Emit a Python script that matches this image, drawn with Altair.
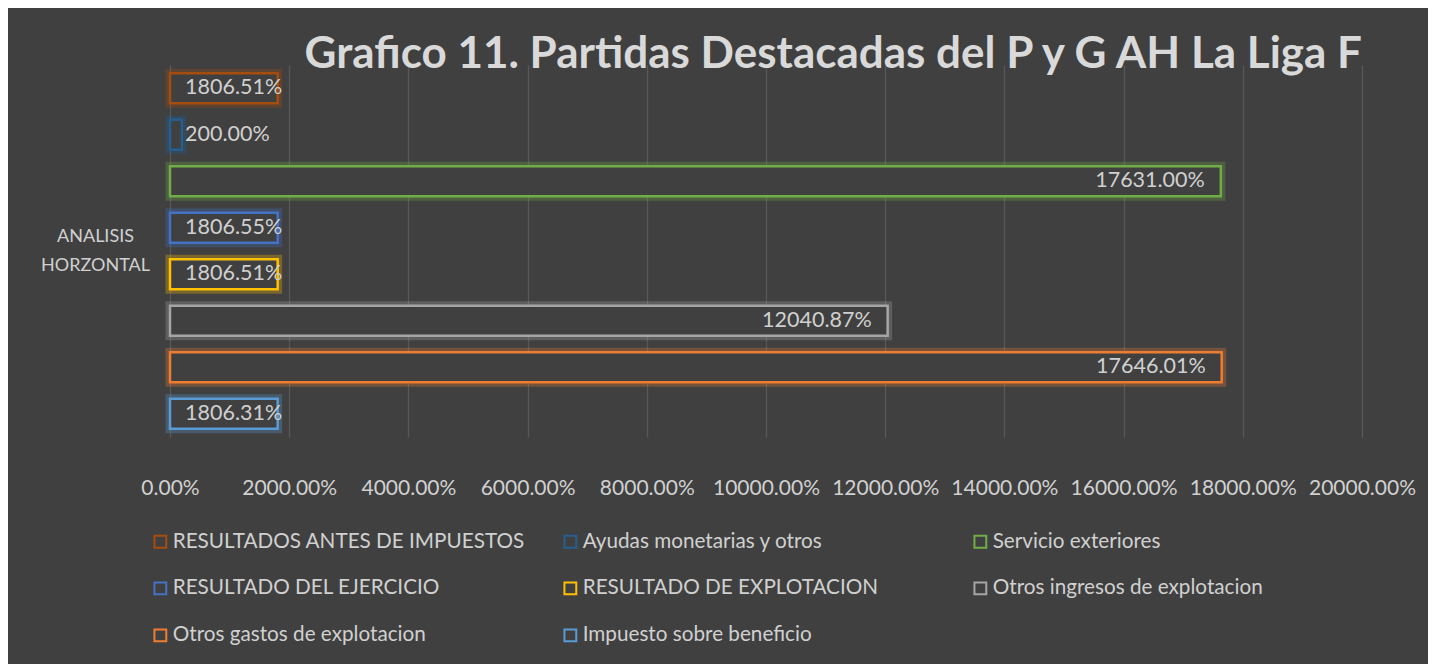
import altair as alt
import pandas as pd

series = [
    "RESULTADOS ANTES DE IMPUESTOS",
    "Ayudas monetarias y otros",
    "Servicio exteriores",
    "RESULTADO DEL EJERCICIO",
    "RESULTADO DE EXPLOTACION",
    "Otros ingresos de explotacion",
    "Otros gastos de explotacion",
    "Impuesto sobre beneficio",
]
values = [1806.51, 200.00, 17631.00, 1806.55, 1806.51, 12040.87, 17646.01, 1806.31]
colors = ["#A54C0F", "#255E91", "#70AD47", "#4472C4", "#FFC000", "#A5A5A5", "#ED7D31", "#5B9BD5"]
group = "ANALISIS HORZONTAL"
x_ticks = [0, 2000, 4000, 6000, 8000, 10000, 12000, 14000, 16000, 18000, 20000]
title = "Grafico 11. Partidas Destacadas del P y G AH La Liga F"

df = pd.DataFrame({"group": [group] * len(series), "series": series, "value": values})
df["label"] = [f"{v:.2f}%" for v in values]

FONT = "Lato"
TXT = "#D0D0D0"

color_scale = alt.Scale(domain=series, range=colors)
legend = alt.Legend(
    title=None,
    orient="none",
    legendX=-20,
    legendY=466,
    columns=3,
    direction="horizontal",
    symbolType="square",
    symbolSize=140,
    symbolStrokeWidth=2,
    symbolFillColor="transparent",
    labelFont=FONT,
    labelFontSize=20.7,
    labelColor=TXT,
    labelLimit=500,
    columnPadding=35,
    rowPadding=25,
    gridAlign="all",
    symbolOffset=0,
    labelOffset=2,
)
y_enc = alt.Y(
    "group:N",
    title=None,
    scale=alt.Scale(paddingInner=0, paddingOuter=0),
    axis=alt.Axis(
        labelExpr="split(datum.label, ' ')",
        labelAlign="center",
        labelPadding=75,
        labelOffset=-14,
        labelFont=FONT,
        labelFontSize=18,
        labelColor=TXT,
        labelLineHeight=29,
        ticks=False,
        domain=False,
        grid=False,
    ),
)
yoff_enc = alt.YOffset(
    "series:N",
    sort=series,
    scale=alt.Scale(paddingInner=0.356, paddingOuter=0.178),
)
x_enc = alt.X(
    "value:Q",
    title=None,
    scale=alt.Scale(domain=[0, 20000], nice=False),
    axis=alt.Axis(
        values=x_ticks,
        labelExpr="format(datum.value, '.2f') + '%'",
        labelFont=FONT,
        labelFontSize=21,
        labelColor=TXT,
        labelPadding=40,
        labelOverlap=False,
        labelFlush=False,
        ticks=False,
        domain=False,
        grid=True,
        gridColor="#585858",
        gridWidth=1.3,
    ),
)
stroke_enc = alt.Stroke("series:N", scale=color_scale, sort=series, legend=legend)

base = alt.Chart(df)

glow = base.mark_bar(fill="#404040", strokeWidth=9, strokeOpacity=0.3).encode(
    x=x_enc, y=y_enc, yOffset=yoff_enc, stroke=stroke_enc
)

bars = base.mark_bar(fill="#404040", strokeWidth=2.5).encode(
    x=x_enc, y=y_enc, yOffset=yoff_enc, stroke=stroke_enc
)

text_big = base.transform_filter("datum.value >= 5000").mark_text(
    align="right", baseline="middle", dx=-16, font=FONT, fontSize=21.5, color=TXT
).encode(x=alt.X("value:Q"), y=y_enc, yOffset=yoff_enc, text="label:N")

text_small = base.transform_filter("datum.value < 5000").mark_text(
    align="left", baseline="middle", dx=15, font=FONT, fontSize=21.5, color=TXT
).encode(x=alt.datum(0), y=y_enc, yOffset=yoff_enc, text="label:N")

chart = (
    alt.layer(glow, bars, text_big, text_small)
    .properties(
        width=1192,
        height=372,
        title=alt.TitleParams(
            text=title,
            anchor="end",
            frame="group",
            font=FONT,
            fontSize=44,
            fontWeight="bold",
            color="#D9D9D9",
            baseline="alphabetic",
            offset=-4,
            dy=43,
        ),
        autosize=alt.AutoSizeParams(type="none"),
        padding={"left": 162, "top": 57, "right": 66, "bottom": 232},
        background="#404040",
    )
    .configure_view(stroke=None)
)

chart.save("out.html", embed_options={"renderer": "svg", "actions": False})
